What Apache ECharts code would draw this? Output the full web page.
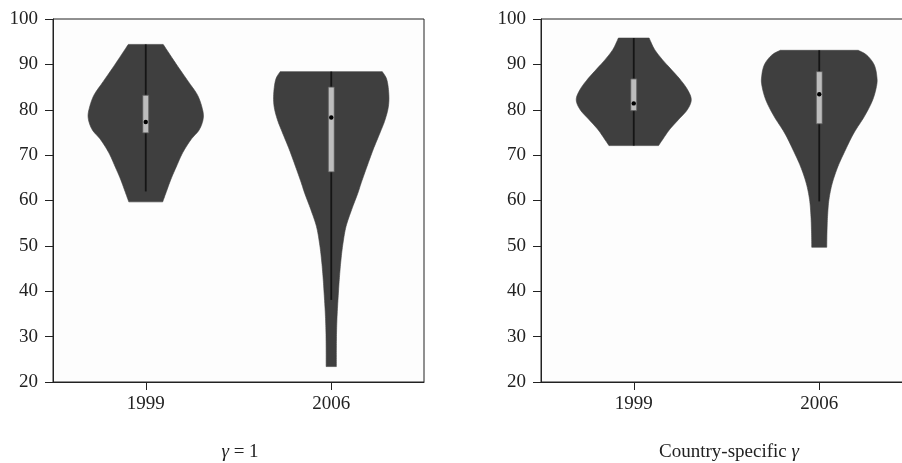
<!DOCTYPE html>
<html>
<head>
<meta charset="utf-8">
<script src="https://cdn.jsdelivr.net/npm/echarts@6/dist/echarts.min.js"></script>
<style>
html,body{margin:0;padding:0;background:#fff;}
#chart{width:902px;height:463px;}
</style>
</head>
<body>
<div id="chart"></div>
<script>
// ---- Data ----
const categories = ['1999', '2006'];
const yMin = 20, yMax = 100, yStep = 10;
const panelTitles = ['γ = 1', 'Country-specific γ'];

// Panel A (γ = 1): density profiles (levels in %, relative density)
const a1999Levels = [59.7, 61.7, 64.7, 67.6, 70.5, 73.4, 75.6, 78.1, 80.3, 83.2, 85.9, 89.6, 94.4];
const a1999Density = [17, 20.3, 25.3, 31, 37, 45.3, 53.7, 57.7, 56.7, 52, 43.7, 32, 17.5];
const a2006Levels = [23.4, 27, 31, 35, 39.6, 43, 46.9, 50.6, 54.3, 58, 61.6, 64, 67.5, 71.2, 74.9, 77.8, 80.8, 83.7, 86.7, 88.4];
const a2006Density = [5, 5, 5.2, 5.8, 7, 8, 9.5, 11.5, 14.5, 20, 26, 29.5, 35, 41, 47.7, 52.7, 56, 56.3, 54.3, 50];

// Panel B (country-specific γ)
const b1999Levels = [72.1, 73.4, 75.6, 77.8, 80.0, 82.2, 84.4, 86.7, 88.9, 91.1, 93.3, 95.8];
const b1999Density = [25, 29, 36, 45, 54, 58, 54.3, 46.7, 37.7, 28.7, 21, 15.5];
const b2006Levels = [49.7, 52.8, 56.5, 60.2, 63.8, 67.5, 71.2, 74.9, 78.6, 82.2, 85.5, 87.5, 89.6, 91.1, 92.3, 93.1];
const b2006Density = [7.5, 7.7, 8.3, 9.7, 13, 18.7, 26.3, 34.7, 45.3, 53.5, 57.5, 57.5, 55.5, 51.5, 46, 39];

// Box summaries: [whiskerLow, q1, median, q3, whiskerHigh]
const aBox = [[62.0, 74.9, 77.3, 83.2, 94.4], [38.1, 66.3, 78.3, 85.0, 88.4]];
const bBox = [[72.1, 79.8, 81.4, 86.8, 95.8], [59.8, 76.9, 83.4, 88.4, 93.1]];

const panels = [
  { levels: [a1999Levels, a2006Levels], density: [a1999Density, a2006Density], box: aBox },
  { levels: [b1999Levels, b2006Levels], density: [b1999Density, b2006Density], box: bBox }
];

// ---- Rendering ----
const FONT = 'Liberation Serif';
const INK = '#222';
const VIOLIN = '#3f3f3f';

function catmull(p0, p1, p2, p3, t) {
  const t2 = t * t, t3 = t2 * t;
  return 0.5 * ((2 * p1) + (-p0 + p2) * t + (2 * p0 - 5 * p1 + 4 * p2 - p3) * t2 + (-p0 + 3 * p1 - 3 * p2 + p3) * t3);
}
function smoothProfile(L, W) {
  const out = [];
  const n = L.length;
  for (let i = 0; i < n - 1; i++) {
    const i0 = Math.max(0, i - 1), i3 = Math.min(n - 1, i + 2);
    for (let s = 0; s < 8; s++) {
      const t = s / 8;
      out.push([catmull(L[i0], L[i], L[i + 1], L[i3], t), catmull(W[i0], W[i], W[i + 1], W[i3], t)]);
    }
  }
  out.push([L[n - 1], W[n - 1]]);
  return out;
}

function makeRender(panel) {
  return function (params, api) {
    const ci = api.value(0);
    const L = panel.levels[ci], W = panel.density[ci], B = panel.box[ci];
    const band = api.size([1, 0])[0];
    const halfMax = band * 0.31;
    const wMax = Math.max.apply(null, W);
    const cx = api.coord([ci, yMin])[0];
    const prof = smoothProfile(L, W);
    const right = [], left = [];
    for (let k = prof.length - 1; k >= 0; k--) {
      const y = api.coord([ci, prof[k][0]])[1];
      right.push([cx + prof[k][1] / wMax * halfMax, y]);
    }
    for (let k = 0; k < prof.length; k++) {
      const y = api.coord([ci, prof[k][0]])[1];
      left.push([cx - prof[k][1] / wMax * halfMax, y]);
    }
    const pts = right.concat(left);
    const yWL = api.coord([ci, B[0]])[1];
    const yQ1 = api.coord([ci, B[1]])[1];
    const yMed = api.coord([ci, B[2]])[1];
    const yQ3 = api.coord([ci, B[3]])[1];
    const yWH = api.coord([ci, B[4]])[1];
    const bw = 6;
    return {
      type: 'group',
      children: [
        { type: 'polygon', shape: { points: pts }, style: { fill: VIOLIN, stroke: VIOLIN, lineWidth: 0.6 } },
        { type: 'line', shape: { x1: cx, y1: yWH, x2: cx, y2: yWL }, style: { stroke: '#151515', lineWidth: 1.8 } },
        { type: 'rect', shape: { x: cx - bw / 2, y: yQ3, width: bw, height: yQ1 - yQ3 }, style: { fill: '#bdbdbd', stroke: '#555', lineWidth: 0.8 } },
        { type: 'circle', shape: { cx: cx, cy: yMed, r: 2.2 }, style: { fill: '#000' } }
      ]
    };
  };
}

const gridDefs = [
  { left: 53, top: 19, width: 371, height: 363 },
  { left: 541, top: 19, width: 371, height: 363 }
];

const option = {
  animation: false,
  backgroundColor: '#fff',
  grid: gridDefs.map(g => Object.assign({ show: true, borderColor: INK, borderWidth: 1, backgroundColor: '#fdfdfd', containLabel: false, outerBoundsMode: 'none' }, g)),
  xAxis: gridDefs.map((g, i) => ({
    type: 'category', gridIndex: i, data: categories, boundaryGap: true,
    axisLine: { show: true, lineStyle: { color: INK, width: 1 } },
    axisTick: { show: true, alignWithLabel: true, length: 8, lineStyle: { color: INK } },
    axisLabel: { margin: 13, color: INK, fontFamily: FONT, fontSize: 19 },
    splitLine: { show: false }
  })),
  yAxis: gridDefs.map((g, i) => ({
    type: 'value', gridIndex: i, min: yMin, max: yMax, interval: yStep,
    axisLine: { show: true, lineStyle: { color: INK, width: 1 } },
    axisTick: { show: true, length: 8, lineStyle: { color: INK } },
    axisLabel: { margin: 15, color: INK, fontFamily: FONT, fontSize: 19 },
    splitLine: { show: false }
  })),
  graphic: [
    { type: 'text', x: 240, y: 452, style: { text: '{i|γ} = 1', textAlign: 'center', textVerticalAlign: 'middle', fill: INK, font: '19px "Liberation Serif"',
      rich: { i: { fontStyle: 'italic', fontFamily: FONT, fontSize: 19, fill: INK } } } },
    { type: 'text', x: 729, y: 452, style: { text: 'Country-specific {i|γ}', textAlign: 'center', textVerticalAlign: 'middle', fill: INK, font: '19px "Liberation Serif"',
      rich: { i: { fontStyle: 'italic', fontFamily: FONT, fontSize: 19, fill: INK } } } }
  ],
  series: panels.map((p, i) => ({
    type: 'custom', xAxisIndex: i, yAxisIndex: i, clip: false,
    renderItem: makeRender(p),
    data: categories.map((c, ci) => [ci]),
    encode: { x: 0 }
  }))
};

const chart = echarts.init(document.getElementById('chart'), null, { renderer: 'canvas' });
chart.setOption(option);
</script>
</body>
</html>
